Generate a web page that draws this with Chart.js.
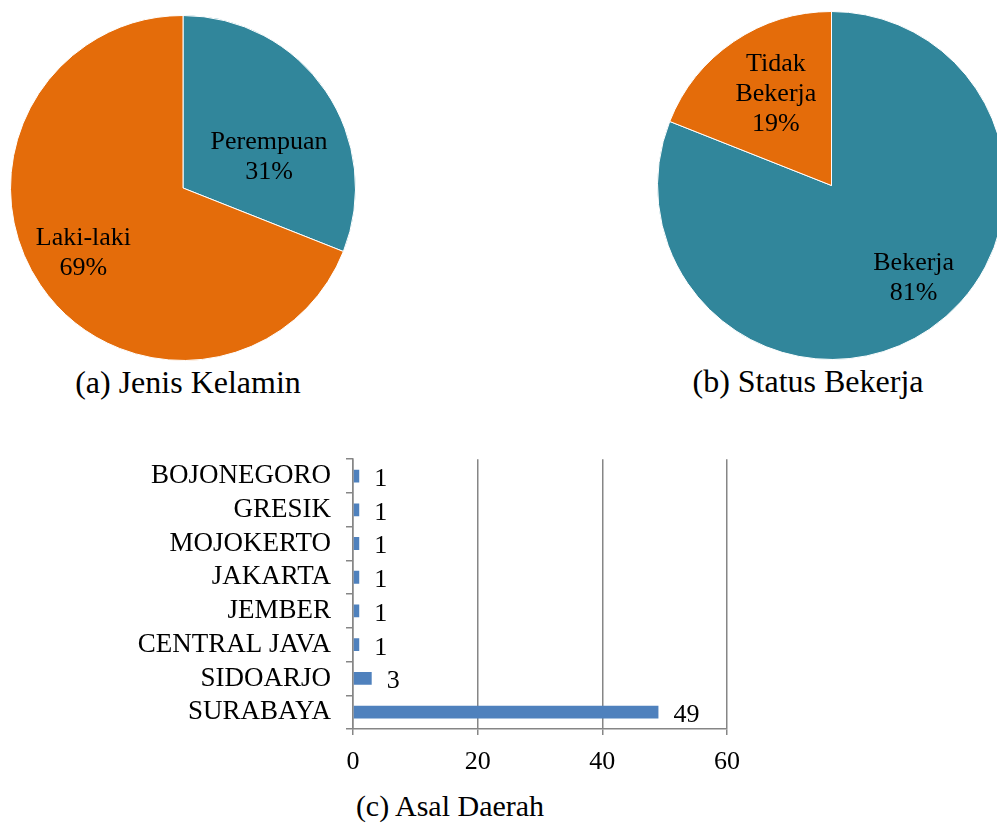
<!DOCTYPE html>
<html>
<head>
<meta charset="utf-8">
<script src="https://cdn.jsdelivr.net/npm/chart.js@4"></script>
<style>
  html, body { margin:0; padding:0; background:#fff; overflow:hidden; }
  #wrap { position:relative; width:997px; height:823px; overflow:hidden; background:#fff; }
  .box { position:absolute; }
  .cap { position:absolute; font-family:"Liberation Serif","Times New Roman",serif; font-size:32px; color:#000; white-space:nowrap; transform:translate(-50%,-50%); line-height:1; }
</style>
</head>
<body>
<div id="wrap">
  <div class="box" style="left:10px;top:15px;width:346px;height:346px;"><canvas id="pieA"></canvas></div>
  <div class="box" style="left:657px;top:11px;width:349px;height:349px;"><canvas id="pieB"></canvas></div>
  <div class="box" style="left:100px;top:428px;width:660px;height:357px;"><canvas id="bar"></canvas></div>
  <div class="cap" style="left:188px;top:382px;">(a) Jenis Kelamin</div>
  <div class="cap" style="left:808px;top:381px;">(b) Status Bekerja</div>
  <div class="cap" style="left:450px;top:806px;font-size:30px;">(c) Asal Daerah</div>
</div>
<script>
// ---- data ----
const genderLabels = ['Perempuan', 'Laki-laki'];
const genderValues = [31, 69];
const workLabels = ['Bekerja', 'Tidak Bekerja'];
const workValues = [81, 19];
const regionLabels = ['BOJONEGORO', 'GRESIK', 'MOJOKERTO', 'JAKARTA', 'JEMBER', 'CENTRAL JAVA', 'SIDOARJO', 'SURABAYA'];
const regionValues = [1, 1, 1, 1, 1, 1, 3, 49];
const xTicks = [0, 20, 40, 60];

// ---- styles ----
const BLUE = '#31869B';
const ORANGE = '#E46C0A';
const BAR = '#4F81BD';
const GRID = '#868686';
const FONT = '"Liberation Serif", "Times New Roman", serif';

// label placement (angle tweak in degrees, fraction of radius) per slice
const pieLabelStyle = {
  pieA: [{ da: 14.4, f: 0.53, lines: ['Perempuan'] }, { da: 1.0, f: 0.69, lines: ['Laki-laki'] }],
  pieB: [{ da: -7.5, f: 0.71, lines: ['Bekerja'] }, { da: 2.9, f: 0.615, lines: ['Tidak', 'Bekerja'] }]
};

const pieLabelPlugin = {
  id: 'pieLabels',
  afterDatasetsDraw(chart) {
    const cfg = pieLabelStyle[chart.canvas.id];
    const meta = chart.getDatasetMeta(0);
    const data = chart.data.datasets[0].data;
    const total = data.reduce((a, b) => a + b, 0);
    const ctx = chart.ctx;
    ctx.save();
    ctx.font = '26px ' + FONT;
    ctx.fillStyle = '#000';
    ctx.textAlign = 'center';
    ctx.textBaseline = 'middle';
    meta.data.forEach((arc, i) => {
      const p = arc.getProps(['x', 'y', 'startAngle', 'endAngle', 'outerRadius'], true);
      const a = (p.startAngle + p.endAngle) / 2 + cfg[i].da * Math.PI / 180;
      const r = p.outerRadius * cfg[i].f;
      const cx = p.x + Math.cos(a) * r;
      const cy = p.y + Math.sin(a) * r;
      const lines = cfg[i].lines.concat([Math.round(data[i] / total * 100) + '%']);
      const lh = 30;
      const y0 = cy - (lines.length - 1) * lh / 2;
      lines.forEach((t, k) => ctx.fillText(t, cx, y0 + k * lh));
    });
    ctx.restore();
  }
};

function makePie(id, labels, values, colors) {
  new Chart(document.getElementById(id), {
    type: 'pie',
    data: { labels, datasets: [{ data: values, backgroundColor: colors, borderColor: '#fff', borderWidth: 1 }] },
    options: {
      responsive: true, maintainAspectRatio: false, animation: false,
      layout: { padding: 0 },
      plugins: { legend: { display: false }, tooltip: { enabled: false } }
    },
    plugins: [pieLabelPlugin]
  });
}
makePie('pieA', genderLabels, genderValues, [BLUE, ORANGE]);
makePie('pieB', workLabels, workValues, [BLUE, ORANGE]);

const valueLabelPlugin = {
  id: 'valueLabels',
  afterDatasetsDraw(chart) {
    const meta = chart.getDatasetMeta(0);
    const ctx = chart.ctx;
    ctx.save();
    ctx.font = '26px ' + FONT;
    ctx.fillStyle = '#000';
    ctx.textAlign = 'left';
    ctx.textBaseline = 'middle';
    meta.data.forEach((bar, i) => {
      ctx.fillText(String(regionValues[i]), bar.x + 15, bar.y + 3);
    });
    ctx.restore();
  }
};

new Chart(document.getElementById('bar'), {
  type: 'bar',
  data: { labels: regionLabels, datasets: [{ data: regionValues, backgroundColor: BAR, barPercentage: 0.38, categoryPercentage: 1 }] },
  options: {
    indexAxis: 'y',
    responsive: true, maintainAspectRatio: false, animation: false,
    layout: { padding: { top: 0, right: 33, bottom: 0, left: 0 } },
    plugins: { legend: { display: false }, tooltip: { enabled: false } },
    scales: {
      x: {
        min: 0, max: 60,
        afterBuildTicks: (s) => { s.ticks = xTicks.map(v => ({ value: v })); },
        afterFit: (s) => { s.height = 56; },
        grid: { color: GRID, lineWidth: 1.5, tickLength: 6, drawTicks: true },
        border: { display: true, color: GRID, width: 1.5 },
        ticks: { color: '#000', font: { family: FONT, size: 26 }, padding: 12, maxRotation: 0 }
      },
      y: {
        afterFit: (s) => { s.width = 253; },
        offset: true,
        grid: { offset: true, drawOnChartArea: false, drawTicks: true, tickLength: 7, color: GRID, lineWidth: 1.5 },
        border: { display: true, color: GRID, width: 1.5 },
        ticks: { color: '#000', font: { family: FONT, size: 27 }, padding: 15, autoSkip: false }
      }
    }
  },
  plugins: [valueLabelPlugin]
});
</script>
</body>
</html>
